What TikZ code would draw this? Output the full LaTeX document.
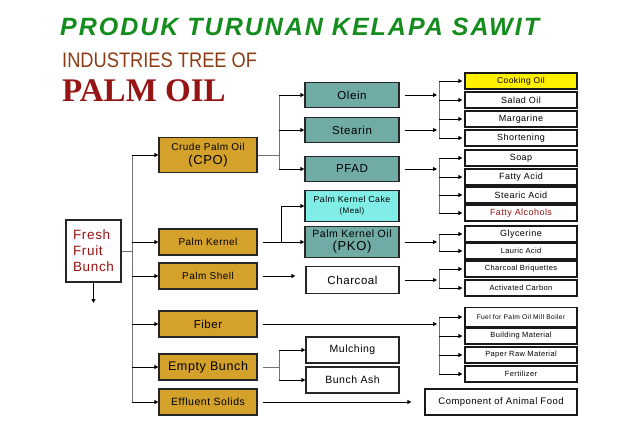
\documentclass[tikz,border=0pt]{standalone}
\usepackage{fontspec}
\setmainfont{Liberation Sans}[LetterSpace=5]
\newfontfamily\titlefont{Liberation Sans}[LetterSpace=8]
\newfontfamily\headfont{Liberation Sans}
\newfontfamily\bigfont{Liberation Serif}
\usepackage{tikz}
\usetikzlibrary{positioning, arrows.meta, calc}
\definecolor{boxgold}{RGB}{212,162,42}
\definecolor{boxteal}{RGB}{112,171,165}
\definecolor{boxcyan}{RGB}{128,238,230}
\definecolor{boxyellow}{RGB}{255,240,0}
\definecolor{titlegreen}{RGB}{20,140,30}
\definecolor{headbrown}{RGB}{140,60,20}
\definecolor{darkred}{RGB}{150,20,20}

\begin{document}
\begin{tikzpicture}[x=1pt, y=-1pt,
    gold/.style={rectangle, draw=black!85, line width=1.3pt, fill=boxgold, minimum width=98pt, minimum height=26pt, inner sep=1pt, align=center, font=\fontsize{10}{11}\selectfont},
    teal/.style={rectangle, draw=black!85, line width=1.3pt, fill=boxteal, minimum width=94pt, minimum height=25pt, inner sep=1pt, align=center, font=\fontsize{11.5}{12}\selectfont},
    plain/.style={rectangle, draw=black!85, line width=1.3pt, fill=white, minimum width=93pt, minimum height=26pt, inner sep=1pt, align=center, font=\fontsize{10.5}{12}\selectfont},
    prod/.style={rectangle, draw=black!90, line width=1.3pt, fill=white, minimum width=112pt, minimum height=16pt, inner sep=0pt, font=\fontsize{7.5}{8}\selectfont},
    bigprod/.style={prod, font=\fontsize{9}{9}\selectfont},
    arr/.style={-{Triangle[length=4pt, width=4pt]}, line width=1pt},
    link/.style={draw=black!55, line width=0.8pt}]

\useasboundingbox (0,0) rectangle (640,439);

% Titles
\node[anchor=west, inner sep=0pt, text=titlegreen, font=\titlefont\fontsize{25}{26}\selectfont\bfseries\itshape] (title) at (60,27) {PRODUK TURUNAN KELAPA SAWIT};
\node[anchor=west, inner sep=0pt, text=headbrown, font=\headfont\fontsize{21}{22}\selectfont] (industries) at (62,60) {\scalebox{0.87}[1]{INDUSTRIES TREE OF}};
\node[anchor=west, inner sep=0pt, text=darkred, font=\bigfont\fontsize{33}{34}\selectfont\bfseries] (palmoil) at (62,91) {PALM OIL};

% Fresh Fruit Bunch
\node[rectangle, draw=black!85, line width=1.3pt, fill=white, minimum width=55pt, minimum height=62pt, inner sep=2pt, align=left, text=darkred, font=\fontsize{13.5}{16}\selectfont] (ffb) at (93.5,251) {Fresh\\Fruit\\Bunch};
\coordinate (ffbout) at (93.5,303);

% First products
\node[gold, minimum height=35pt] (cpo) at (208,155) {Crude Palm Oil\\[3pt]{\fontsize{13}{14}\selectfont (CPO)}};
\node[gold] (pk) at (208,242) {Palm Kernel};
\node[gold] (ps) at (208,276) {Palm Shell};
\node[gold, font=\fontsize{11.5}{12}\selectfont] (fib) at (208,324) {Fiber};
\node[gold, font=\fontsize{12.5}{13}\selectfont] (eb) at (208,367) {Empty Bunch};
\node[gold, font=\fontsize{10.5}{11}\selectfont] (es) at (208,402) {Effluent Solids};

% Second products
\node[teal] (olein) at (352,95) {Olein};
\node[teal] (stearin) at (352,130) {Stearin};
\node[teal] (pfad) at (352,169) {PFAD};
\node[teal, fill=boxcyan, minimum height=31pt, font=\fontsize{8.8}{10}\selectfont] (pkc) at (352,206) {Palm Kernel Cake\\[1pt]{\fontsize{8}{9}\selectfont (Meal)}};
\node[teal, minimum height=31pt, font=\fontsize{10.5}{11}\selectfont] (pko) at (352,242) {Palm Kernel Oil\\[2pt]{\fontsize{13}{14}\selectfont (PKO)}};
\node[plain, minimum height=27pt, font=\fontsize{11.5}{12}\selectfont] (charcoal) at (352.5,280) {Charcoal};
\node[plain] (mulch) at (352.5,350) {Mulching};
\node[plain] (ash) at (352.5,380) {Bunch Ash};

% End products
\node[bigprod, fill=boxyellow, font=\fontsize{8.5}{9}\selectfont] (cook) at (521,81) {Cooking Oil};
\node[bigprod] (salad) at (521,100) {Salad Oil};
\node[bigprod] (marg) at (521,119) {Margarine};
\node[bigprod] (short) at (521,138) {Shortening};
\node[bigprod] (soap) at (521,158) {Soap};
\node[bigprod] (facid) at (521,177) {Fatty Acid};
\node[bigprod] (sacid) at (521,195) {Stearic Acid};
\node[bigprod, text=darkred] (falc) at (521,213) {Fatty Alcohols};
\node[bigprod] (glyc) at (521,234) {Glycerine};
\node[prod] (lauric) at (521,251) {Lauric Acid};
\node[prod] (briq) at (521,269) {Charcoal Briquettes};
\node[prod] (actc) at (521,288) {Activated Carbon};
\node[prod, minimum height=19pt, font=\fontsize{6.7}{7}\selectfont] (fuel) at (521,317) {Fuel for Palm Oil Mill Boiler};
\node[prod] (build) at (521,336) {Building Material};
\node[prod] (paper) at (521,355) {Paper Raw Material};
\node[prod] (fert) at (521,374) {Fertilizer};
\node[prod, minimum width=152pt, minimum height=26pt, font=\fontsize{9.5}{10}\selectfont] (food) at (501,402) {Component of Animal Food};

% Junctions
\coordinate (trunk) at (132,155);
\coordinate (trunkend) at (132,402);
\coordinate (cpoj) at (279,155);
\coordinate (pkj) at (281,242);
\coordinate (ebj) at (279,367);
\coordinate (brk) at (439,0);

% Trunk from the fresh fruit bunch
\draw[link] (ffb.east) -- (ffb.east -| trunk);
\draw[link] (trunk) -- (trunkend);
\draw[arr] (ffb.south) -- (ffbout);
\foreach \n in {cpo,pk,ps,fib,eb,es}
    \draw[arr] (\n.west -| trunk) -- (\n.west);

% CPO fractions
\draw[link] (cpo.east) -- (cpoj);
\draw[link] (olein.west -| cpoj) -- (pfad.west -| cpoj);
\foreach \n in {olein,stearin,pfad}
    \draw[arr] (\n.west -| cpoj) -- (\n.west);

% Palm kernel
\draw[arr] ([xshift=5pt]pk.east) -- (pko.west);
\draw[arr] (pkj) |- (pkc.west);

% Palm shell
\draw[arr, shorten >=10pt] ([xshift=5pt]ps.east) -- (ps.east -| charcoal.west);

% Empty bunch
\draw[link] ([xshift=5pt]eb.east) -- (ebj);
\draw[link] (mulch.west -| ebj) -- (ash.west -| ebj);
\foreach \n in {mulch,ash}
    \draw[arr] (\n.west -| ebj) -- (\n.west);

% Effluent solids
\draw[arr, shorten >=13pt] ([xshift=5pt]es.east) -- (food.west);

% Feeds into the end products
\foreach \n in {olein,stearin,pfad,pko,charcoal}
    \draw[arr, shorten >=2pt] ([xshift=5pt]\n.east) -- (\n.east -| brk);
\draw[arr, shorten >=2pt] ([xshift=5pt]fib.east) -- (fib.east -| brk);

% Brackets
\draw[link] (cook.west -| brk) -- (short.west -| brk);
\draw[link] (soap.west -| brk) -- (falc.west -| brk);
\draw[link] (glyc.west -| brk) -- (lauric.west -| brk);
\draw[link] (briq.west -| brk) -- (actc.west -| brk);
\draw[link] (fuel.west -| brk) -- (fert.west -| brk);
\foreach \n in {cook,salad,marg,short,soap,facid,sacid,falc,glyc,lauric,briq,actc,fuel,build,paper,fert}
    \draw[arr, shorten >=2pt] (\n.west -| brk) -- (\n.west);

\end{tikzpicture}
\end{document}
